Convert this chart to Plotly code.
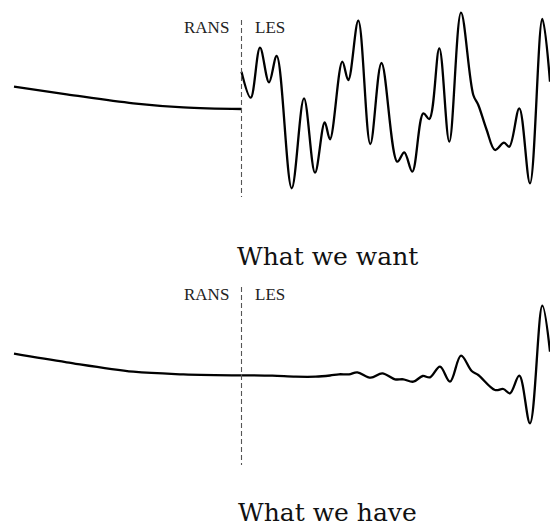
import plotly.graph_objects as go

# ---- data (x along the domain, amplitude relative to RANS outflow level) ----
# Top panel: "What we want"
want_rans_x = [14, 66.7, 133.3, 183.3, 241.5]
want_rans_y = [22.3, 14.7, 5.7, 1.7, 0.0]
want_les_x = [241.5, 250.7, 260, 269, 276.7, 291.7, 304, 315, 324.7, 330, 342.3, 348.3, 358.3,
              370.3, 381.5, 397.3, 404.3, 412.3, 423.3, 429.3, 439.3, 449.3, 461, 473.3, 478.3,
              486.7, 495, 504, 509.3, 519.3, 530, 542.3, 550]
want_les_y = [37.3, 11.3, 61.3, 26.7, 53, -79.3, 10.7, -63.7, -13.3, -30.3, 47.3, 29, 88.3,
              -35, 46, -52.7, -43.3, -62.7, -4.3, -10, 60.7, -32.7, 96.3, 14, 4,
              -21, -41, -33.7, -37.7, 0.7, -74.3, 90, 27.3]

# Bottom panel: "What we have"
have_rans_x = [14, 66.7, 133.3, 183.3, 241.5]
have_rans_y = [21.6, 13.0, 3.6, 1.0, 0.0]
have_les_x = [241.5, 272.3, 295.7, 315.7, 330, 339, 349, 357.3, 370.7, 382.3, 395, 403.3, 413.3,
              422.7, 430, 440, 450, 461, 471.7, 478.3, 495, 503.3, 510, 519.3, 530, 542.3, 550]
have_les_y = [0, -0.4, -1.4, -1.4, -0.2, 1, 1, 3, -2.4, 2, -4, -4, -6.4,
              -0.7, -2, 8.6, -6.4, 19.6, 4.3, 0.3, -14.7, -13.7, -18, -0.4, -48, 69.6, 23.6]

interface_x = 241.5
divider_top = [89, -88]
divider_bottom = [88.3, -89.7]

titles = ["What we want", "What we have"]
labels = ["RANS", "LES"]

fig = go.Figure()

curve = dict(color="black", width=2.3, shape="spline", smoothing=1.0)
dash = dict(color="#555555", width=1.1, dash="5px,3px")

# top panel
fig.add_trace(go.Scatter(x=want_rans_x, y=want_rans_y, mode="lines", line=curve, yaxis="y"))
fig.add_trace(go.Scatter(x=want_les_x, y=want_les_y, mode="lines", line=curve, yaxis="y"))
fig.add_trace(go.Scatter(x=[interface_x, interface_x], y=divider_top, mode="lines", line=dash, yaxis="y"))
# bottom panel
fig.add_trace(go.Scatter(x=have_rans_x, y=have_rans_y, mode="lines", line=curve, yaxis="y2"))
fig.add_trace(go.Scatter(x=have_les_x, y=have_les_y, mode="lines", line=curve, yaxis="y2"))
fig.add_trace(go.Scatter(x=[interface_x, interface_x], y=divider_bottom, mode="lines", line=dash, yaxis="y2"))

lab_font = dict(family="Liberation Serif", size=17, color="#222222")
title_font = dict(family="DejaVu Serif", size=25, color="#111111")

annotations = []
for yref, ylab, ytitle, title in [("y", 82, -147, titles[0]), ("y2", 81.3, -137.5, titles[1])]:
    annotations.append(dict(x=interface_x - 11, y=ylab, xref="x", yref=yref, text=labels[0],
                            showarrow=False, xanchor="right", yanchor="middle", font=lab_font))
    annotations.append(dict(x=interface_x + 11, y=ylab, xref="x", yref=yref, text=labels[1],
                            showarrow=False, xanchor="left", yanchor="middle", font=lab_font))
    annotations.append(dict(x=327, y=ytitle, xref="x", yref=yref, text=title,
                            showarrow=False, xanchor="center", yanchor="middle", font=title_font))

axis_off = dict(visible=False, showgrid=False, zeroline=False, fixedrange=True)
fig.update_layout(
    width=550, height=532,
    margin=dict(l=0, r=0, t=0, b=0, pad=0),
    paper_bgcolor="white", plot_bgcolor="white",
    showlegend=False,
    xaxis=dict(range=[0, 550], **axis_off),
    yaxis=dict(domain=[0.5, 1], range=[-157, 109], **axis_off),
    yaxis2=dict(domain=[0, 0.5], range=[-156.7, 109.3], **axis_off),
    annotations=annotations,
)

fig.write_html(
    "out.html",
    config={"displayModeBar": False},
    post_script="document.body.style.margin='0';document.body.style.overflow='hidden';",
)
